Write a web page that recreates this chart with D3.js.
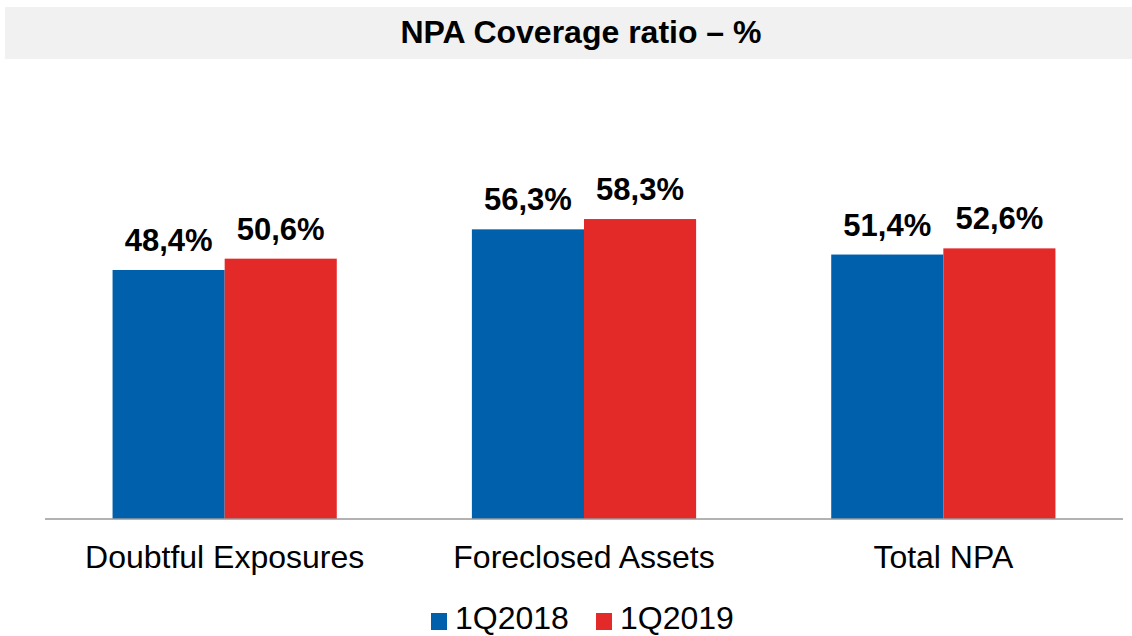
<!DOCTYPE html>
<html>
<head>
<meta charset="utf-8">
<script src="https://cdn.jsdelivr.net/npm/d3@7/dist/d3.min.js"></script>
<style>
  html, body { margin: 0; padding: 0; background: #fff; }
  svg { display: block; font-family: "Liberation Sans", Arial, sans-serif; }
</style>
</head>
<body>
<svg id="chart" width="1132" height="636"></svg>
<script>
// NPA coverage ratios (%) by exposure type
const categories = ["Doubtful Exposures", "Foreclosed Assets", "Total NPA"];
const seriesNames = ["1Q2018", "1Q2019"];
const values1Q2018 = [48.4, 56.3, 51.4];
const values1Q2019 = [50.6, 58.3, 52.6];
const seriesColors = ["#0060ac", "#e42a28"];
const titleText = "NPA Coverage ratio \u2013 %";

const seriesValues = [values1Q2018, values1Q2019];
const fmt = v => d3.format(".1f")(v).replace(".", ",") + "%";

const svg = d3.select("#chart");

// Title banner
svg.append("rect")
  .attr("x", 5).attr("y", 7)
  .attr("width", 1127).attr("height", 52)
  .attr("fill", "#f1f1f1");
svg.append("text")
  .attr("x", 581).attr("y", 43)
  .attr("text-anchor", "middle")
  .attr("font-size", 32).attr("font-weight", "bold")
  .attr("fill", "#000")
  .text(titleText);

// Scales
const x0 = d3.scaleBand()
  .domain(categories)
  .range([45, 1123])
  .paddingInner(0.376)
  .paddingOuter(0.188);
const x1 = d3.scaleBand()
  .domain(seriesNames)
  .range([0, x0.bandwidth()])
  .padding(0);
const y = d3.scaleLinear()
  .domain([0, 100])
  .range([519, 4.5]);

// Bars
const groups = svg.append("g").selectAll("g")
  .data(categories)
  .join("g")
  .attr("transform", d => `translate(${x0(d)},0)`);

groups.selectAll("rect")
  .data((c, i) => seriesNames.map((s, k) => ({ s, k, v: seriesValues[k][i] })))
  .join("rect")
  .attr("x", d => x1(d.s))
  .attr("y", d => y(d.v))
  .attr("width", x1.bandwidth())
  .attr("height", d => y(0) - y(d.v))
  .attr("fill", d => seriesColors[d.k]);

// Value labels
groups.selectAll("text.val")
  .data((c, i) => seriesNames.map((s, k) => ({ s, k, v: seriesValues[k][i] })))
  .join("text")
  .attr("class", "val")
  .attr("x", d => x1(d.s) + x1.bandwidth() / 2)
  .attr("y", d => y(d.v) - 19)
  .attr("text-anchor", "middle")
  .attr("font-size", 31).attr("font-weight", "bold")
  .attr("fill", "#000")
  .text(d => fmt(d.v));

// Category axis
const xAxis = d3.axisBottom(x0).tickSize(0).tickPadding(0);
const axisG = svg.append("g")
  .attr("transform", `translate(0,${y(0)})`)
  .call(xAxis);
axisG.select(".domain")
  .attr("d", "M45,0H1123")
  .attr("stroke", "#999")
  .attr("stroke-width", 1.5);
axisG.selectAll(".tick text")
  .attr("y", 49)
  .attr("dy", 0)
  .attr("font-family", "\"Liberation Sans\", Arial, sans-serif")
  .attr("font-size", 32)
  .attr("fill", "#000");

// Legend
const legendX = [431, 596];
const legend = svg.append("g").selectAll("g")
  .data(seriesNames)
  .join("g")
  .attr("transform", (d, i) => `translate(${legendX[i]},0)`);
legend.append("rect")
  .attr("x", 0).attr("y", 613)
  .attr("width", 16).attr("height", 17)
  .attr("fill", (d, i) => seriesColors[i]);
legend.append("text")
  .attr("x", 24).attr("y", 629)
  .attr("font-size", 32)
  .attr("fill", "#000")
  .text(d => d);
</script>
</body>
</html>
